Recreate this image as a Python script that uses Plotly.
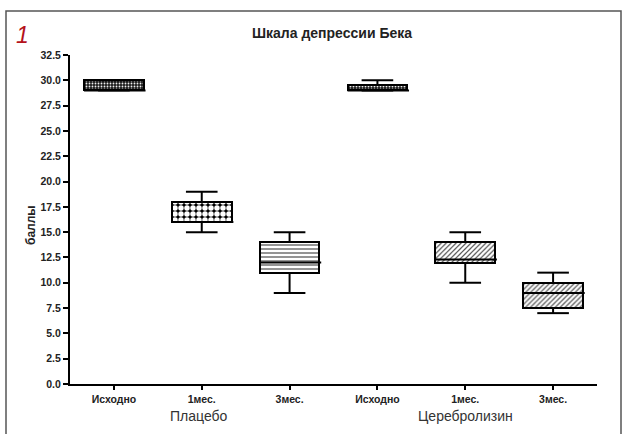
import plotly.graph_objects as go

categories = ["Исходно", "1мес.", "3мес.", "Исходно", "1мес.", "3мес."]
groups = ["Плацебо", "Церебролизин"]
q1 = [29.0, 16.0, 11.0, 29.0, 12.0, 7.5]
median = [29.0, 16.0, 12.0, 29.0, 12.3, 9.0]
q3 = [30.0, 18.0, 14.0, 29.5, 14.0, 10.0]
lower = [29.0, 15.0, 9.0, 29.0, 10.0, 7.0]
upper = [30.0, 19.0, 15.0, 30.0, 15.0, 11.0]
y_ticks = [0.0, 2.5, 5.0, 7.5, 10.0, 12.5, 15.0, 17.5, 20.0, 22.5, 25.0, 27.5, 30.0, 32.5]

patterns = [".", ".", "-", ".", "/", "/"]
pat_fg = ["#f0f0f0", "white", "#666666", "#f0f0f0", "#555555", "#555555"]
pat_bg = ["#1a1a1a", "black", "white", "#1a1a1a", "white", "white"]
pat_size = [3, 6, 4, 3, 3.5, 3.5]
pat_sol = [0.3, 0.65, 0.35, 0.3, 0.35, 0.35]

W = 627; H = 434
L, R, T, B = 70, 597, 55, 384
def px(x): return (x - L) / (R - L)
def py(y): return (B - y) / (B - T)

xs = list(range(len(categories)))
fig = go.Figure()

for i in xs:
    fig.add_trace(go.Bar(
        x=[xs[i]], y=[q3[i] - q1[i]], base=[q1[i]], width=0.68,
        marker=dict(color=pat_bg[i], line=dict(color="black", width=2),
                    pattern=dict(shape=patterns[i], fgcolor=pat_fg[i], bgcolor=pat_bg[i],
                                 size=pat_size[i], solidity=pat_sol[i], fillmode="replace")),
        showlegend=False, hoverinfo="skip"))

wx, wy = [], []
for i in xs:
    wx += [i, i, None, i, i, None]
    wy += [q3[i], upper[i], None, q1[i], lower[i], None]
    wx += [i - 0.18, i + 0.18, None, i - 0.18, i + 0.18, None]
    wy += [upper[i], upper[i], None, lower[i], lower[i], None]
fig.add_trace(go.Scatter(x=wx, y=wy, mode="lines", line=dict(color="black", width=2),
                         showlegend=False, hoverinfo="skip"))

mx, my = [], []
for i in xs:
    mx += [i - 0.34, i + 0.36, None]
    my += [median[i], median[i], None]
fig.add_trace(go.Scatter(x=mx, y=my, mode="lines", line=dict(color="black", width=2),
                         showlegend=False, hoverinfo="skip"))

tickfont = dict(family="Liberation Sans, Arial", size=10.5, color="#222222")
fig.update_xaxes(range=[-0.5, 5.5], tickvals=xs, ticktext=["<b>%s</b>" % c for c in categories],
                 showline=True, linecolor="black", linewidth=2, ticks="outside", ticklen=4,
                 tickwidth=2, tickcolor="black", showgrid=False, zeroline=False,
                 tickfont=tickfont, fixedrange=True)
fig.update_yaxes(range=[0, 32.5], tickvals=y_ticks, ticktext=["<b>%.1f</b>" % v for v in y_ticks],
                 showline=True, linecolor="black", linewidth=2, ticks="outside", ticklen=5,
                 tickwidth=2, tickcolor="black", showgrid=False, zeroline=False,
                 tickfont=tickfont, fixedrange=True)

F = "Liberation Sans, Arial"
ann = []
ann.append(dict(x=px(332), y=py(33), text="<b>Шкала депрессии Бека</b>",
                font=dict(family=F, size=14, color="#222222")))
ann.append(dict(x=px(22), y=py(35), text="<i>1</i>",
                font=dict(family=F, size=23, color="#b5121b")))
ann.append(dict(x=px(31), y=py(225), text="<b>баллы</b>", textangle=-90,
                font=dict(family=F, size=12, color="#222222")))
ann.append(dict(x=px(199), y=py(416), text=groups[0],
                font=dict(family=F, size=14, color="#333333")))
ann.append(dict(x=px(465), y=py(416), text=groups[1],
                font=dict(family=F, size=14, color="#333333")))
for a in ann:
    a.update(xref="paper", yref="paper", xanchor="center", yanchor="middle", showarrow=False)

fig.add_shape(type="rect", xref="paper", yref="paper", x0=px(6), x1=px(621), y0=py(440), y1=py(11),
              line=dict(color="#555555", width=1.5), layer="below")

fig.update_layout(width=W, height=H, margin=dict(l=L, r=W - R, t=T, b=H - B),
                  paper_bgcolor="white", plot_bgcolor="white", annotations=ann,
                  barmode="overlay", bargap=0, hovermode=False)
fig.write_html("out.html", config={"displayModeBar": False},
               post_script="document.body.style.margin='0';document.body.style.overflow='hidden';")
